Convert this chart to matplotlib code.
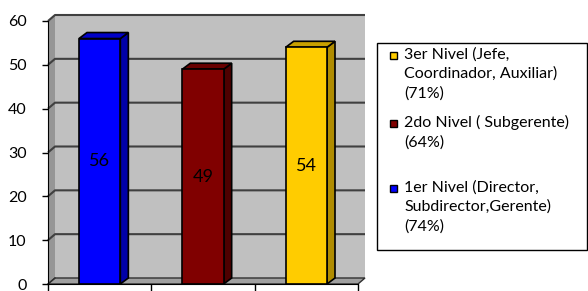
import matplotlib
matplotlib.use("Agg")
import matplotlib.pyplot as plt
from matplotlib.patches import Polygon, Rectangle

# datos
niveles = ["1er Nivel", "2do Nivel", "3er Nivel"]
valores = [56, 49, 54]
colores = ["#0000ff", "#800000", "#ffcc00"]
lados = ["#0000a8", "#4e0000", "#b08c00"]
techos = ["#0000c8", "#680000", "#c8a000"]
yticks = [0, 10, 20, 30, 40, 50, 60]
leyenda = [
    ("3er Nivel (Jefe,\nCoordinador, Auxiliar)\n(71%)", "#ffcc00"),
    ("2do Nivel ( Subgerente)\n(64%)", "#800000"),
    ("1er Nivel (Director,\nSubdirector,Gerente)\n(74%)", "#0000ff"),
]

W, H = 588, 291
plt.rcParams["font.family"] = ["Lato", "DejaVu Sans"]
fig = plt.figure(figsize=(W / 100, H / 100), dpi=100)
ax = fig.add_axes([48 / W, 7 / H, 310 / W, 263 / H])
ax.set_xlim(-0.5, 2.5)
ax.set_ylim(0, 60)

# desplazamiento 3D en px -> unidades de datos
px_x = 310 / 3.0
px_y = 263 / 60.0
ox, oy = 7 / px_x, 6 / px_y      # pared
bx, by = 8 / px_x, 6 / px_y      # barras

# pared del fondo, pared lateral, piso
ax.add_patch(Polygon([(-0.5 + ox, oy), (2.5 + ox, oy), (2.5 + ox, 60 + oy), (-0.5 + ox, 60 + oy)],
                     closed=True, fc="#c0c0c0", ec="none", zorder=0, clip_on=False))
ax.add_patch(Polygon([(-0.5, 0), (-0.5, 60), (-0.5 + ox, 60 + oy), (-0.5 + ox, oy)],
                     closed=True, fc="#969696", ec="none", zorder=0.5, clip_on=False))
ax.add_patch(Polygon([(-0.5, 0), (2.5, 0), (2.5 + ox, oy), (-0.5 + ox, oy)],
                     closed=True, fc="#a0a0a0", ec="#303030", lw=1, zorder=1, clip_on=False))
for v in yticks[1:]:
    ax.plot([-0.5, -0.5 + ox, 2.5 + ox], [v, v + oy, v + oy], color="#404040", lw=1.5,
            zorder=1, clip_on=False, solid_capstyle="butt")
ax.plot([-0.5, -0.5 + ox], [0, oy], color="#303030", lw=1, zorder=1, clip_on=False)

# barras
w = 0.4
xs = list(range(len(valores)))
ax.bar(xs, valores, width=w, color=colores, edgecolor="black", lw=1.2, zorder=3)
for x, v, cl, ct in zip(xs, valores, lados, techos):
    r = x + w / 2
    l = x - w / 2
    ax.add_patch(Polygon([(r, 0), (r + bx, by), (r + bx, v + by), (r, v)], closed=True,
                         fc=cl, ec="black", lw=1.2, zorder=2.9, clip_on=False))
    ax.add_patch(Polygon([(l, v), (r, v), (r + bx, v + by), (l + bx, v + by)], closed=True,
                         fc=ct, ec="black", lw=1.2, zorder=2.9, clip_on=False))
    ax.text(x, v / 2, str(v), ha="center", va="center", fontsize=13, color="black", zorder=4)

# ejes
for s in ["top", "right"]:
    ax.spines[s].set_visible(False)
ax.spines["left"].set_color("black")
ax.spines["bottom"].set_color("black")
ax.spines["left"].set_zorder(5)
ax.spines["bottom"].set_zorder(5)
ax.set_yticks(yticks)
ax.set_xticks([-0.5, 0.5, 1.5, 2.5])
ax.set_xticklabels([])
ax.tick_params(axis="y", direction="out", length=4.5, width=1, labelsize=11.5, pad=11, colors="black")
ax.tick_params(axis="x", direction="out", length=5, width=1)
ax.patch.set_visible(False)

# leyenda
fig.patches.append(Rectangle((377 / W, 1 - 250 / H), (587 - 377) / W, (250 - 43) / H,
                             transform=fig.transFigure, fc="white", ec="black", lw=1))
tops = [47, 115, 180]
for (txt, c), t in zip(leyenda, tops):
    fig.patches.append(Rectangle((390 / W, 1 - (t + 12) / H), 7 / W, 7 / H,
                                 transform=fig.transFigure, fc=c, ec="black", lw=1))
    fig.text(404 / W, 1 - t / H, txt, ha="left", va="top", fontsize=11.5, linespacing=1.48)

fig.savefig("out.png", dpi=100)
